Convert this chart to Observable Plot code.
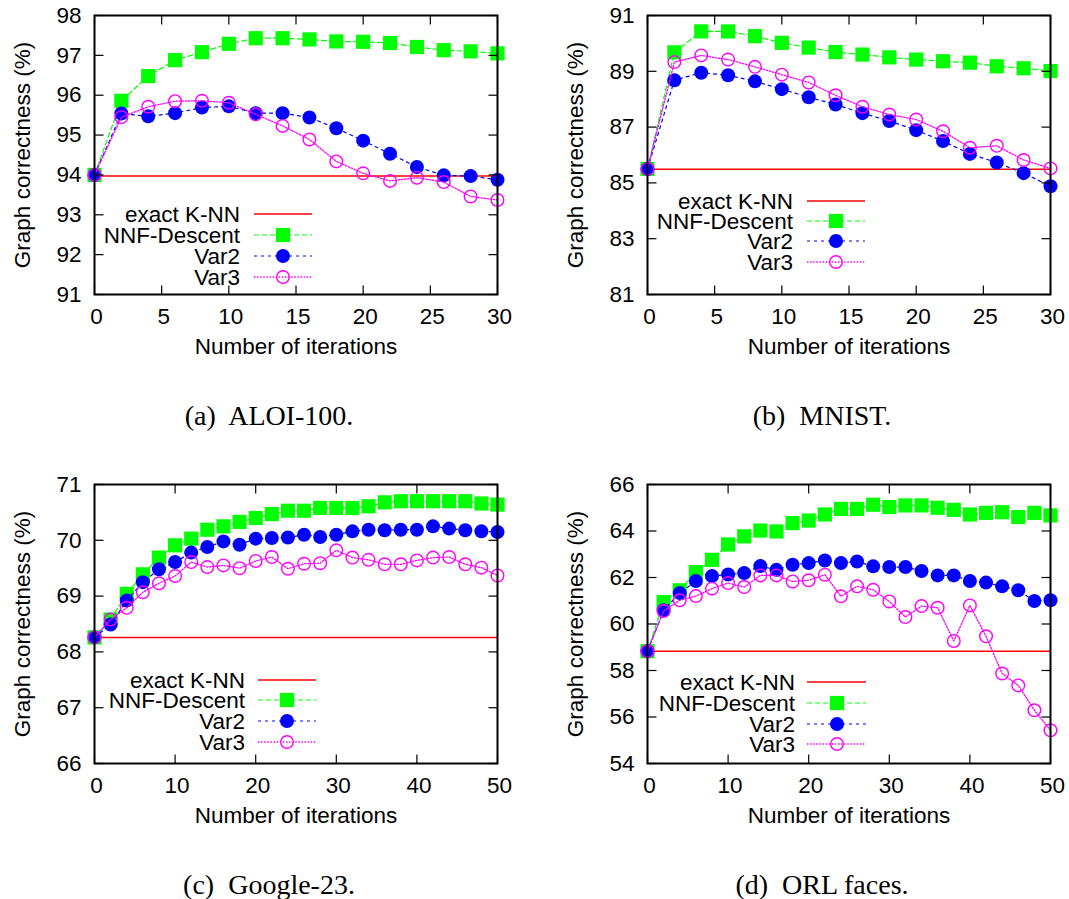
<!DOCTYPE html>
<html><head><meta charset="utf-8">
<script src="https://cdn.jsdelivr.net/npm/d3@7"></script>
<script src="https://cdn.jsdelivr.net/npm/@observablehq/plot@0.6"></script>
<style>
body{margin:0;background:#fff;}
#root{position:relative;width:1069px;height:899px;overflow:hidden;background:#fff;}
.panel{position:absolute;}
.panel svg{position:absolute;left:0;top:0;}
</style></head><body><div id="root"></div>
<script>
// ---------- data ----------
const seriesNames = ["exact K-NN", "NNF-Descent", "Var2", "Var3"];
const xLabel = "Number of iterations";
const yLabel = "Graph correctness (%)";

const iters30 = [0, 2, 4, 6, 8, 10, 12, 14, 16, 18, 20, 22, 24, 26, 28, 30];
const iters50 = [0, 2, 4, 6, 8, 10, 12, 14, 16, 18, 20, 22, 24, 26, 28, 30, 32, 34, 36, 38, 40, 42, 44, 46, 48, 50];

const xTicks30 = [0, 5, 10, 15, 20, 25, 30];
const xTicks50 = [0, 10, 20, 30, 40, 50];

// (a) ALOI-100
const aloiExact = 93.97;
const aloiNNF  = [94.0, 95.86, 96.48, 96.88, 97.08, 97.29, 97.43, 97.43, 97.40, 97.35, 97.34, 97.31, 97.21, 97.13, 97.10, 97.05];
const aloiVar2 = [94.0, 95.54, 95.47, 95.55, 95.69, 95.72, 95.55, 95.55, 95.44, 95.17, 94.86, 94.53, 94.20, 93.99, 93.97, 93.88];
const aloiVar3 = [94.0, 95.45, 95.71, 95.85, 95.86, 95.81, 95.52, 95.23, 94.89, 94.34, 94.04, 93.85, 93.93, 93.82, 93.46, 93.37];
const aloiYTicks = [91, 92, 93, 94, 95, 96, 97, 98];

// (b) MNIST
const mnistExact = 85.49;
const mnistNNF  = [85.5, 89.68, 90.43, 90.43, 90.26, 90.02, 89.85, 89.69, 89.60, 89.50, 89.42, 89.36, 89.31, 89.18, 89.11, 89.01];
const mnistVar2 = [85.5, 88.68, 88.95, 88.86, 88.64, 88.36, 88.07, 87.81, 87.50, 87.22, 86.89, 86.50, 86.04, 85.73, 85.35, 84.88];
const mnistVar3 = [85.5, 89.33, 89.57, 89.42, 89.16, 88.88, 88.60, 88.14, 87.73, 87.45, 87.27, 86.85, 86.26, 86.33, 85.82, 85.52];
const mnistYTicks = [81, 83, 85, 87, 89, 91];

// (c) Google-23
const googleExact = 68.26;
const googleNNF  = [68.26, 68.58, 69.04, 69.39, 69.69, 69.91, 70.03, 70.19, 70.25, 70.33, 70.40, 70.47, 70.53, 70.53, 70.58, 70.58, 70.58, 70.61, 70.68, 70.70, 70.70, 70.70, 70.70, 70.70, 70.66, 70.64];
const googleVar2 = [68.26, 68.49, 68.92, 69.25, 69.48, 69.61, 69.78, 69.88, 69.98, 69.92, 70.03, 70.04, 70.05, 70.10, 70.06, 70.10, 70.16, 70.19, 70.18, 70.19, 70.19, 70.25, 70.21, 70.18, 70.16, 70.15];
const googleVar3 = [68.26, 68.58, 68.79, 69.07, 69.23, 69.36, 69.61, 69.52, 69.55, 69.50, 69.63, 69.70, 69.49, 69.58, 69.59, 69.82, 69.69, 69.65, 69.57, 69.57, 69.64, 69.69, 69.70, 69.57, 69.51, 69.37];
const googleYTicks = [66, 67, 68, 69, 70, 71];

// (d) ORL faces
const orlExact = 58.83;
const orlNNF  = [58.83, 60.94, 61.45, 62.23, 62.76, 63.42, 63.77, 64.02, 63.98, 64.34, 64.45, 64.71, 64.95, 64.95, 65.13, 65.03, 65.10, 65.10, 65.00, 64.91, 64.71, 64.78, 64.81, 64.60, 64.78, 64.67];
const orlVar2 = [58.83, 60.59, 61.33, 61.85, 62.06, 62.13, 62.19, 62.49, 62.33, 62.55, 62.62, 62.73, 62.62, 62.69, 62.48, 62.45, 62.45, 62.28, 62.09, 62.09, 61.85, 61.78, 61.62, 61.45, 60.99, 61.02];
const orlVar3 = [58.83, 60.56, 61.02, 61.20, 61.52, 61.76, 61.59, 62.09, 62.09, 61.83, 61.88, 62.12, 61.19, 61.62, 61.47, 60.97, 60.30, 60.77, 60.70, 59.27, 60.80, 59.47, 57.87, 57.36, 56.29, 55.43];
const orlYTicks = [54, 56, 58, 60, 62, 64, 66];

const captions = ["(a)  ALOI-100.", "(b)  MNIST.", "(c)  Google-23.", "(d)  ORL faces."];

// ---------- styles ----------
const RED = "#ff0000", GREEN = "#00ff00", BLUE = "#0000ff", MAGENTA = "#ff00ff";
const styles = [
  {stroke: RED, dash: null, width: 1.5, marker: null},
  {stroke: GREEN, dash: "5,3", width: 1.2, marker: "square"},
  {stroke: BLUE, dash: "3,4", width: 1.2, marker: "fill"},
  {stroke: MAGENTA, dash: "1.5,1.6", width: 1.3, marker: "ring"}
];
const FONT = "'Liberation Sans', Arial, Helvetica, sans-serif";
const FS = 22.5;

const panels = [
  {left: 0, top: 0, width: 534, mL: 94, mR: 37, iters: iters30, xTicks: xTicks30, yDomain: [91, 98], yTicks: aloiYTicks,
   exact: aloiExact, nnf: aloiNNF, var2: aloiVar2, var3: aloiVar3, caption: captions[0], capX: 269,
   lg: {tx: 146, l1: 160, l2: 218, mx: 189, rows: [199, 220, 241, 262]}},
  {left: 534, top: 0, width: 535, mL: 113, mR: 19, iters: iters30, xTicks: xTicks30, yDomain: [81, 91], yTicks: mnistYTicks,
   exact: mnistExact, nnf: mnistNNF, var2: mnistVar2, var3: mnistVar3, caption: captions[1], capX: 288,
   lg: {tx: 146, l1: 160, l2: 218, mx: 189, rows: [186, 206, 226, 247]}},
  {left: 0, top: 469, width: 534, mL: 94, mR: 37, iters: iters50, xTicks: xTicks50, yDomain: [66, 71], yTicks: googleYTicks,
   exact: googleExact, nnf: googleNNF, var2: googleVar2, var3: googleVar3, caption: captions[2], capX: 269,
   lg: {tx: 151, l1: 164, l2: 222, mx: 193, rows: [196, 216, 237, 258]}},
  {left: 534, top: 469, width: 535, mL: 113, mR: 19, iters: iters50, xTicks: xTicks50, yDomain: [54, 66], yTicks: orlYTicks,
   exact: orlExact, nnf: orlNNF, var2: orlVar2, var3: orlVar3, caption: captions[3], capX: 288,
   lg: {tx: 148, l1: 160, l2: 219, mx: 190, rows: [198, 219, 240, 260]}}
];

const H = 380, MT = 15, MB = 86;
const root = document.getElementById("root");

function seriesMarks(data, st) {
  const marks = [Plot.line(data, {x: "x", y: "y", stroke: st.stroke, strokeWidth: st.width, strokeDasharray: st.dash})];
  if (st.marker === "square") marks.push(Plot.dot(data, {x: "x", y: "y", symbol: "square", r: 8, fill: st.stroke, stroke: null}));
  if (st.marker === "fill") marks.push(Plot.dot(data, {x: "x", y: "y", r: 7, fill: st.stroke, stroke: null}));
  if (st.marker === "ring") marks.push(Plot.dot(data, {x: "x", y: "y", r: 6.3, fill: "none", stroke: st.stroke, strokeWidth: 1.4}));
  return marks;
}

const tickOpts = {length: 9, r: 0, anchor: "start", stroke: "#000", strokeWidth: 1.2, strokeLinecap: "butt"};

for (const p of panels) {
  const vals = [p.nnf, p.var2, p.var3];
  const data = vals.map(v => v.map((y, i) => ({x: p.iters[i], y})));
  const div = document.createElement("div");
  div.className = "panel";
  div.style.left = p.left + "px"; div.style.top = p.top + "px";
  div.style.width = p.width + "px"; div.style.height = "469px";
  root.appendChild(div);

  const chart = Plot.plot({
    width: p.width, height: H,
    marginLeft: p.mL, marginRight: p.mR, marginTop: MT, marginBottom: MB,
    x: {domain: [p.iters[0], p.iters[p.iters.length - 1]]},
    y: {domain: p.yDomain},
    style: {fontFamily: FONT, fontSize: FS + "px", color: "#000", background: "transparent", overflow: "visible"},
    marks: [
      Plot.ruleY([p.exact], {stroke: RED, strokeWidth: 1.5}),
      ...seriesMarks(data[0], styles[1]),
      ...seriesMarks(data[1], styles[2]),
      ...seriesMarks(data[2], styles[3]),
      Plot.vector(p.xTicks, {x: d => d, frameAnchor: "bottom", rotate: 0, ...tickOpts}),
      Plot.vector(p.xTicks, {x: d => d, frameAnchor: "top", rotate: 180, ...tickOpts}),
      Plot.vector(p.yTicks, {y: d => d, frameAnchor: "left", rotate: 90, ...tickOpts}),
      Plot.vector(p.yTicks, {y: d => d, frameAnchor: "right", rotate: -90, ...tickOpts}),
      Plot.frame({stroke: "#000", strokeWidth: 2}),
      Plot.axisX(p.xTicks, {tickSize: 0, tickPadding: 14, label: null, tickFormat: d => String(d), dx: 2, fill: "#000"}),
      Plot.axisY(p.yTicks, {tickSize: 0, tickPadding: 13, label: null, tickFormat: d => String(d), fill: "#000"}),
      Plot.text([yLabel], {text: d => d, frameAnchor: "left", textAnchor: "middle", lineAnchor: "middle", dx: -72, rotate: -90, fill: "#000"}),
      Plot.text([xLabel], {text: d => d, frameAnchor: "bottom", textAnchor: "middle", lineAnchor: "middle", dy: 52, fill: "#000"})
    ]
  });
  div.appendChild(chart);

  // legend overlay
  const lg = d3.select(div).append("svg").attr("width", p.width).attr("height", H)
    .style("overflow", "visible");
  const g = lg.append("g").attr("transform", `translate(${p.mL},${MT})`)
    .attr("font-family", FONT).attr("font-size", FS);
  seriesNames.forEach((name, i) => {
    const y = p.lg.rows[i], st = styles[i];
    g.append("text").attr("x", p.lg.tx).attr("y", y + 7.5).attr("text-anchor", "end").attr("fill", "#000").text(name);
    g.append("line").attr("x1", p.lg.l1).attr("x2", p.lg.l2).attr("y1", y).attr("y2", y)
      .attr("stroke", st.stroke).attr("stroke-width", st.width).attr("stroke-dasharray", st.dash);
    if (st.marker === "square") g.append("rect").attr("x", p.lg.mx - 7.1).attr("y", y - 7.1).attr("width", 14.2).attr("height", 14.2).attr("fill", st.stroke);
    if (st.marker === "fill") g.append("circle").attr("cx", p.lg.mx).attr("cy", y).attr("r", 7).attr("fill", st.stroke);
    if (st.marker === "ring") g.append("circle").attr("cx", p.lg.mx).attr("cy", y).attr("r", 6.3).attr("fill", "none").attr("stroke", st.stroke).attr("stroke-width", 1.4);
  });

  // caption
  const cap = d3.select(div).append("svg").attr("width", p.width).attr("height", 469).style("pointer-events", "none");
  cap.append("text").attr("x", p.capX).attr("y", 425).attr("text-anchor", "middle")
    .attr("font-family", "'Liberation Serif', 'Times New Roman', serif").attr("font-size", 28)
    .style("white-space", "pre").attr("fill", "#000").text(p.caption);
}
</script>
</body></html>
